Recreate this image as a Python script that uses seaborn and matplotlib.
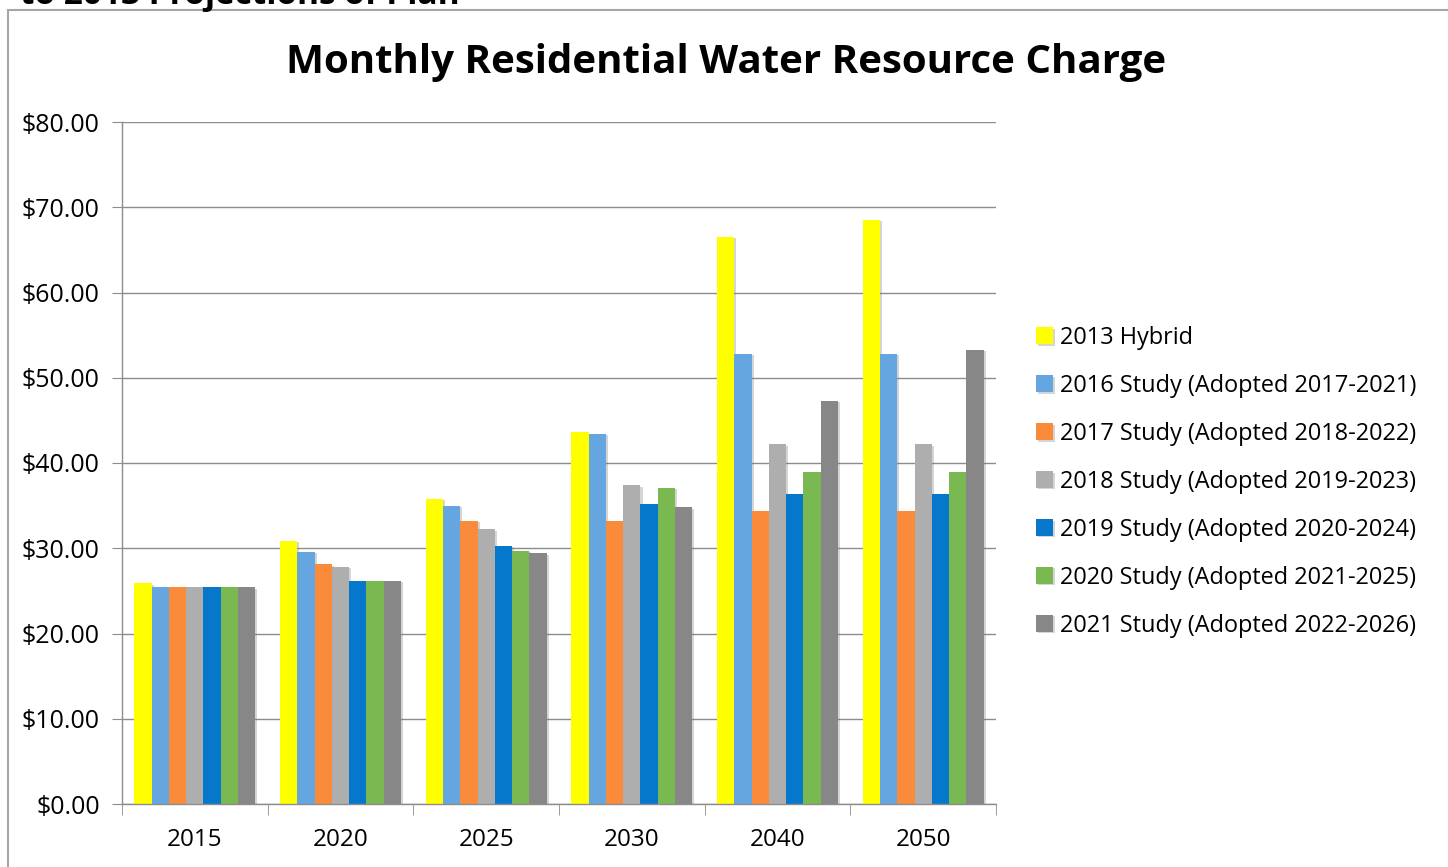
import matplotlib
matplotlib.use("Agg")
import matplotlib.pyplot as plt
import matplotlib.patheffects as pe
from matplotlib.patches import Rectangle
import seaborn as sns
import pandas as pd

years = ["2015", "2020", "2025", "2030", "2040", "2050"]
series = [
    "2013 Hybrid",
    "2016 Study (Adopted 2017-2021)",
    "2017 Study (Adopted 2018-2022)",
    "2018 Study (Adopted 2019-2023)",
    "2019 Study (Adopted 2020-2024)",
    "2020 Study (Adopted 2021-2025)",
    "2021 Study (Adopted 2022-2026)",
]
hybrid_2013 = [25.9, 30.9, 35.8, 43.6, 66.5, 68.5]
study_2016 = [25.4, 29.6, 35.0, 43.4, 52.8, 52.8]
study_2017 = [25.4, 28.1, 33.2, 33.2, 34.4, 34.4]
study_2018 = [25.4, 27.8, 32.2, 37.4, 42.2, 42.2]
study_2019 = [25.4, 26.2, 30.3, 35.2, 36.4, 36.4]
study_2020 = [25.4, 26.2, 29.7, 37.1, 39.0, 39.0]
study_2021 = [25.4, 26.2, 29.4, 34.8, 47.3, 53.3]
colors = ["#FFFF00", "#65A6E0", "#F98B3B", "#AEAEAE", "#0678CC", "#7AB851", "#878787"]

values = [hybrid_2013, study_2016, study_2017, study_2018, study_2019, study_2020, study_2021]
rows = []
for s, vals in zip(series, values):
    for y, v in zip(years, vals):
        rows.append({"Year": y, "Series": s, "Charge": v})
df = pd.DataFrame(rows)

sns.set_style("white")
plt.rcParams["font.family"] = ["Open Sans", "DejaVu Sans"]
plt.rcParams["text.color"] = "black"
plt.rcParams["xtick.color"] = "black"
plt.rcParams["ytick.color"] = "black"

fig = plt.figure(figsize=(14.48, 8.67), dpi=100)
ax = fig.add_axes([122 / 1448, 63 / 867, 874 / 1448, 682 / 867])

sns.barplot(data=df, x="Year", y="Charge", hue="Series", order=years,
            hue_order=series, palette=colors, width=0.83, saturation=1,
            edgecolor="none", linewidth=0, ax=ax)

for p in ax.patches:
    p.set_path_effects([pe.SimplePatchShadow(offset=(1.5, -1), shadow_rgbFace="#777777", alpha=0.3),
                        pe.Normal()])

ax.set_ylim(0, 80)
ax.set_xlim(-0.5, 5.5)
ax.set_yticks(range(0, 81, 10))
ax.set_yticklabels([f"${v:.2f}" for v in range(0, 81, 10)], fontsize=18)
ax.yaxis.grid(True, color="#8C8C8C", linewidth=1)
ax.set_axisbelow(True)
ax.tick_params(axis="y", which="major", left=True, length=7, color="#8C8C8C",
               labelcolor="black", pad=9)
ax.tick_params(axis="x", which="major", length=0, labelsize=17.5, labelcolor="black", pad=17)
ax.set_xticks([i - 0.5 for i in range(7)], minor=True)
ax.tick_params(axis="x", which="minor", bottom=True, length=8, color="#8C8C8C")
for side in ["top", "right"]:
    ax.spines[side].set_visible(False)
for side in ["left", "bottom"]:
    ax.spines[side].set_color("#8C8C8C")
    ax.spines[side].set_linewidth(1)
ax.set_xlabel("")
ax.set_ylabel("")

leg = ax.legend(loc="upper left", bbox_to_anchor=(1036 / 1448, 1 - 326 / 867),
                bbox_transform=fig.transFigure, frameon=False, fontsize=16.9,
                handlelength=0.73, handleheight=0.73, handletextpad=0.3,
                labelspacing=1.02, borderpad=0, borderaxespad=0)
for t in leg.get_texts():
    t.set_color("black")

fig.text(0.5 * (289 + 1163) / 1448, 1 - 62 / 867,
         "Monthly Residential Water Resource Charge",
         ha="center", va="center", fontsize=29, fontweight="bold", color="black")

fig.text(20 / 1448, 1 + 0.005, "to 2013 Projections of Plan",
         ha="left", va="center", fontsize=24, fontweight="bold", color="black")

fig.patches.append(Rectangle((8 / 1448, -0.05), 1.2, 1 - 10 / 867 + 0.05,
                             transform=fig.transFigure, fill=False,
                             edgecolor="#A6A6A6", linewidth=1.5))

fig.savefig("out.png", dpi=100)
